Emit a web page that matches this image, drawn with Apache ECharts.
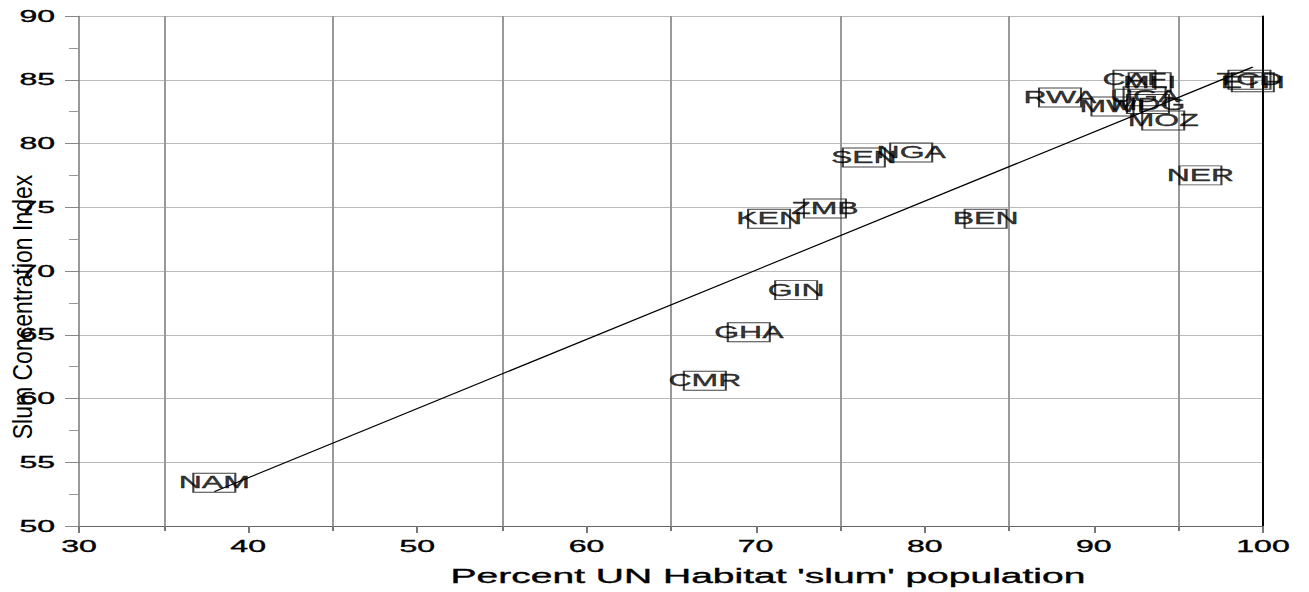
<!DOCTYPE html>
<html>
<head>
<meta charset="utf-8">
<script src="https://cdn.jsdelivr.net/npm/echarts@6/dist/echarts.min.js"></script>
<style>
  html, body { margin: 0; padding: 0; background: #fff; overflow: hidden; }
  /* the original plot is drawn at half width and stretched sideways */
  #slumChart {
    width: 654.5px;
    height: 592px;
    transform: scaleX(2);
    transform-origin: 0 0;
  }
</style>
</head>
<body>
<div id="slumChart"></div>
<script>
// country codes
const countries = ['NAM', 'CMR', 'GHA', 'KEN', 'GIN', 'ZMB', 'SEN', 'NGA', 'BEN', 'RWA',
  'MWI', 'CAF', 'MLI', 'UGA', 'MDG', 'MOZ', 'NER', 'TCD', 'ETH'];
// percent UN Habitat 'slum' population
const slumPercent = [38.0, 67.0, 69.6, 70.8, 72.4, 74.1, 76.4, 79.2, 83.6, 88.0,
  91.1, 92.4, 93.3, 93.0, 93.2, 94.1, 96.3, 99.2, 99.4];
// slum concentration index
const concentration = [53.4, 61.4, 65.2, 74.1, 68.5, 74.9, 78.9, 79.3, 74.1, 83.6,
  82.9, 85.0, 84.8, 83.7, 83.1, 81.8, 77.5, 85.0, 84.8];
// fitted line, read at both ends
const fitX = [38.0, 99.4];
const fitY = [52.7, 86.0];
// axis ranges and tick steps
const xRange = [30, 100];
const xStep = 10;
const yRange = [50, 90];
const yStep = 5;

const font = 'Liberation Sans, Arial, sans-serif';

const pointData = countries.map(function (name, i) {
  return { name: name, value: [slumPercent[i], concentration[i]] };
});
const fitData = fitX.map(function (x, i) {
  return [x, fitY[i]];
});

const myEChart = echarts.init(document.getElementById('slumChart'), null, {
  renderer: 'svg',
  width: 654.5,
  height: 592
});

// slightly heavier black text, like the reference
const textLook = {
  color: '#000',
  fontFamily: font,
  fontSize: 16,
  textBorderColor: '#000',
  textBorderWidth: 0.35
};

const option = {
  animation: false,
  backgroundColor: '#fff',
  grid: {
    left: 39.5,
    right: 23,
    top: 16,
    bottom: 66
  },
  xAxis: {
    type: 'value',
    min: xRange[0],
    max: xRange[1],
    interval: xStep,
    name: "Percent UN Habitat 'slum' population",
    nameLocation: 'middle',
    nameGap: 40,
    nameTextStyle: {
      color: '#000',
      fontFamily: font,
      fontSize: 19.5,
      textBorderColor: '#000',
      textBorderWidth: 0.35,
      padding: [0, 0, 0, 97]   // title sits right of centre
    },
    axisLine: { show: true, onZero: false, lineStyle: { color: '#666', width: 1 } },
    axisTick: { show: true, length: 7, lineStyle: { color: '#777' } },
    minorTick: { show: true, splitNumber: 2, length: 5, lineStyle: { color: '#777' } },
    axisLabel: Object.assign({ margin: 12 }, textLook),
    splitLine: { show: false },
    // vertical grid only at 35, 45, ... 95
    minorSplitLine: { show: true, lineStyle: { color: '#999', width: 1 } }
  },
  yAxis: [
    {
      type: 'value',
      min: yRange[0],
      max: yRange[1],
      interval: yStep,
      axisLine: { show: true, onZero: false, lineStyle: { color: '#555', width: 0.6 } },
      axisTick: { show: true, length: 7, lineStyle: { color: '#888' } },
      minorTick: { show: true, splitNumber: 2, length: 5, lineStyle: { color: '#999' } },
      axisLabel: Object.assign({ margin: 12 }, textLook),
      splitLine: { show: true, lineStyle: { color: '#bbb', width: 1 } }
    },
    {
      // right border of the plot
      type: 'value',
      min: yRange[0],
      max: yRange[1],
      position: 'right',
      axisLine: { show: true, onZero: false, lineStyle: { color: '#000', width: 1 } },
      axisTick: { show: false },
      axisLabel: { show: false },
      splitLine: { show: false }
    }
  ],
  graphic: [
    {
      // y title, thinned so it keeps its length after the stretch
      type: 'text',
      x: 11,
      y: 307,
      rotation: Math.PI / 2,
      scaleY: 0.62,
      style: {
        text: 'Slum Concentration Index',
        fill: '#000',
        font: '23px ' + font,
        textAlign: 'center',
        textVerticalAlign: 'middle'
      },
      z: 100
    }
  ],
  series: [
    {
      type: 'scatter',
      symbol: 'rect',
      symbolSize: [21, 19],
      data: pointData,
      itemStyle: {
        color: 'rgba(0,0,0,0)',
        borderColor: '#111',
        borderWidth: 1
      },
      label: Object.assign({
        show: true,
        position: 'inside',
        formatter: '{b}'
      }, textLook),
      emphasis: { disabled: true },
      z: 3
    },
    {
      type: 'line',
      data: fitData,
      symbol: 'none',
      lineStyle: { color: '#000', width: 1 },
      emphasis: { disabled: true },
      z: 4
    }
  ]
};
myEChart.setOption(option);
</script>
</body>
</html>
